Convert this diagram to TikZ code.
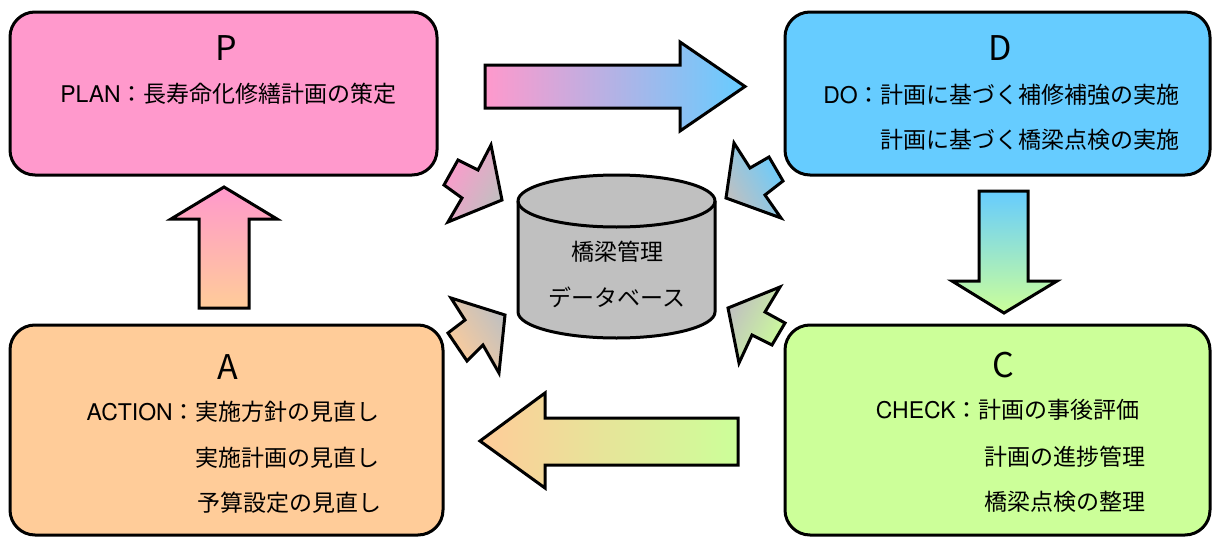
\documentclass[tikz,border=0pt]{standalone}
\usepackage{fontspec}
\setmainfont{Noto Sans CJK JP}
\newfontfamily\latw{TeX Gyre Heros}
\definecolor{pinkc}{HTML}{FF99CC}
\definecolor{bluec}{HTML}{66CCFF}
\definecolor{greenc}{HTML}{CCFF99}
\definecolor{peachc}{HTML}{FFCC99}
\definecolor{grayc}{HTML}{C0C0C0}
\begin{document}
\begin{tikzpicture}[x=1pt,y=-1pt,
  box/.style={draw=black, line width=3pt, rounded corners=25pt, inner sep=0pt},
  blk/.style={draw=black, line width=3pt, line join=miter},
  body/.style={font=\fontsize{23}{27}\selectfont, inner sep=0pt},
  ttl/.style={font=\fontsize{34}{40}\selectfont, inner sep=0pt}]
\fill[white] (0,0) rectangle (1213,538);
\useasboundingbox (0,0) rectangle (1213,538);

% boxes
\node[box, fill=pinkc, minimum width=427pt, minimum height=163pt] (P) at (223.5,93.5) {};
\node[box, fill=bluec, minimum width=425pt, minimum height=163pt] (D) at (997.5,93.5) {};
\node[box, fill=peachc, minimum width=433pt, minimum height=210pt] (A) at (226.5,430) {};
\node[box, fill=greenc, minimum width=425pt, minimum height=210pt] (C) at (997.5,430) {};

% texts
\node[ttl] (Pt) at (226,48) {P};
\node[body, anchor=east] (P1) at (397,94) {{\latw PLAN}：長寿命化修繕計画の策定};

\node[ttl] (Dt) at (1000,48) {D};
\node[body, anchor=east] (D1) at (1180,95) {{\latw DO}：計画に基づく補修補強の実施};
\node[body, anchor=east] (D2) at (1180,140) {計画に基づく橋梁点検の実施};

\node[ttl] (At) at (228,367) {A};
\node[body, anchor=east] (A1) at (380,412) {{\latw ACTION}：実施方針の見直し};
\node[body, anchor=east] (A2) at (380,458) {実施計画の見直し};
\node[body, anchor=east] (A3) at (382,503) {予算設定の見直し};

\node[ttl] (Ct) at (1003,365) {C};
\node[body, anchor=east] (C1) at (1140,410) {{\latw CHECK}：計画の事後評価};
\node[body, anchor=east] (C2) at (1146,457) {計画の進捗管理};
\node[body, anchor=east] (C3) at (1146,502) {橋梁点検の整理};

% big arrows
\path[blk, left color=pinkc, right color=bluec]
  (485,65) -- (680,65) -- (680,42) -- (745,86.5) -- (680,131) -- (680,108) -- (485,108) -- cycle;
\path[blk, top color=bluec, bottom color=greenc]
  (979,191) -- (1028,191) -- (1028,281) -- (1057,281) -- (1004,313) -- (952,281) -- (979,281) -- cycle;
\path[blk, left color=peachc, right color=greenc]
  (738,418) -- (545,418) -- (545,393) -- (480,441) -- (545,488) -- (545,465) -- (738,465) -- cycle;
\path[blk, top color=pinkc, bottom color=peachc]
  (199,308) -- (199,219) -- (171,219) -- (224,187) -- (277,219) -- (249,219) -- (249,308) -- cycle;

% small arrows
\path[blk, top color=pinkc, bottom color=grayc, shading angle=62]
  (491,145) -- (502,200) -- (448,222) -- (462,198) -- (444,185) -- (458,160) -- (478,170) -- cycle;
\path[blk, top color=bluec, bottom color=grayc, shading angle=-60]
  (734,143) -- (726,198) -- (781,218) -- (765,195) -- (783,181) -- (769,157) -- (750,168) -- cycle;
\path[blk, top color=grayc, bottom color=peachc, shading angle=-56]
  (451,298) -- (505,315) -- (499,373) -- (483,345) -- (467,361) -- (448,333) -- (465,320) -- cycle;
\path[blk, top color=grayc, bottom color=greenc, shading angle=63]
  (728,308) -- (780,287) -- (765,312) -- (785,323) -- (772,345) -- (752,335) -- (739,363) -- cycle;

% cylinder
\path[blk, fill=grayc] (518,201) -- (518,312)
  arc[start angle=180, end angle=0, x radius=98.5, y radius=26] -- (715,201)
  arc[start angle=0, end angle=-180, x radius=98.5, y radius=26] -- cycle;
\draw[line width=3pt] (518,201) arc[start angle=180, end angle=0, x radius=98.5, y radius=26];
\node[body] (DB1) at (617,252) {橋梁管理};
\node[body] (DB2) at (617,297) {データベース};
\end{tikzpicture}
\end{document}
